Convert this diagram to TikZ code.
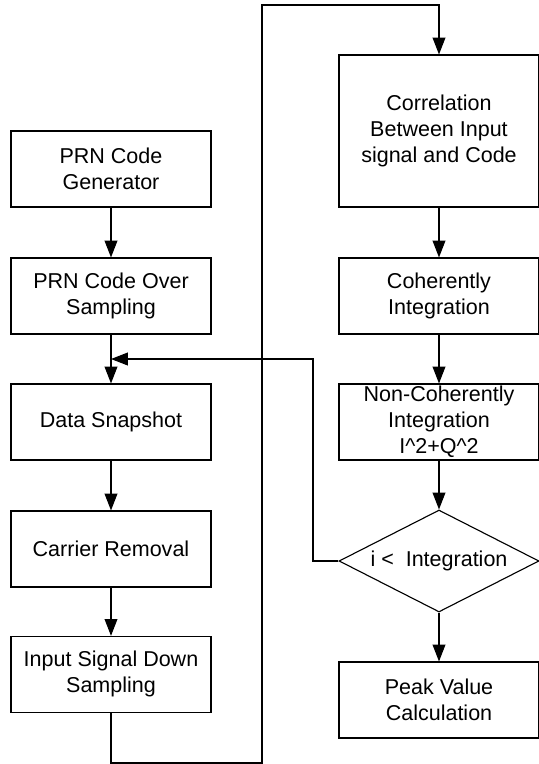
\documentclass[tikz,border=0pt]{standalone}
\usepackage{fontspec}
\setmainfont{Liberation Sans}
\usepackage{tikz}
\usetikzlibrary{arrows.meta, positioning, shapes.geometric}

\begin{document}
\begin{tikzpicture}[font=\fontsize{15.3pt}{18.5pt}\selectfont, line width=0.8pt]
      % Styles
      \tikzset{block/.style={draw, rectangle, minimum width=5cm, minimum height=1.9cm, align=center, inner sep=0pt}}
      \tikzset{decision/.style={draw, diamond, minimum width=5cm, minimum height=2.55cm, aspect=1.96, inner sep=0pt}}
      \tikzset{arr/.style={-{Triangle[length=0.42cm, width=0.32cm]}}}

      \useasboundingbox (0,0) rectangle (13.475,-19.1);

      % --- Left column: code and signal preparation ---
      \node[block] (gen) at (2.775,-4.225) {PRN Code\\Generator};
      \node[block] (over) at (2.775,-7.4) {PRN Code Over\\Sampling};
      \node[block] (snap) at (2.775,-10.55) {Data Snapshot};
      \node[block] (carrier) at (2.775,-13.725) {Carrier Removal};
      \node[block] (down) at (2.775,-16.86) {Input Signal Down\\Sampling};

      % --- Right column: correlation and integration ---
      \node[block, minimum height=3.8cm] (corr) at (10.975,-3.275) {Correlation\\Between Input\\signal and Code};
      \node[block] (coh) at (10.975,-7.4) {Coherently\\Integration};
      \node[block] (noncoh) at (10.975,-10.55) {Non-Coherently\\Integration\\I\^{}2+Q\^{}2};
      \node[decision] (dec) at (10.975,-14.025) {i <\ \ Integration};
      \node[block] (peak) at (10.975,-17.5) {Peak Value\\Calculation};

      % --- Bend points of the long connectors ---
      \coordinate (join) at (2.775,-8.975);
      \coordinate (fb) at (7.825,-14.025);
      \coordinate (loopbot) at (6.55,-19.075);
      \coordinate (looptop) at (6.55,-0.125);

      % --- Arrows ---
      \draw[arr] (gen) -- (over);
      \draw[arr] (over) -- (snap);
      \draw[arr] (snap) -- (carrier);
      \draw[arr] (carrier) -- (down);
      \draw[arr] (down.south) |- (loopbot) -- (looptop) -| (corr.north);
      \draw[arr] (corr) -- (coh);
      \draw[arr] (coh) -- (noncoh);
      \draw[arr] (noncoh) -- (dec);
      \draw[arr] (dec) -- (peak);

      % loop back while i < Integration
      \draw[arr] (dec.west) -- (fb) |- (join);

    \end{tikzpicture}
\end{document}
